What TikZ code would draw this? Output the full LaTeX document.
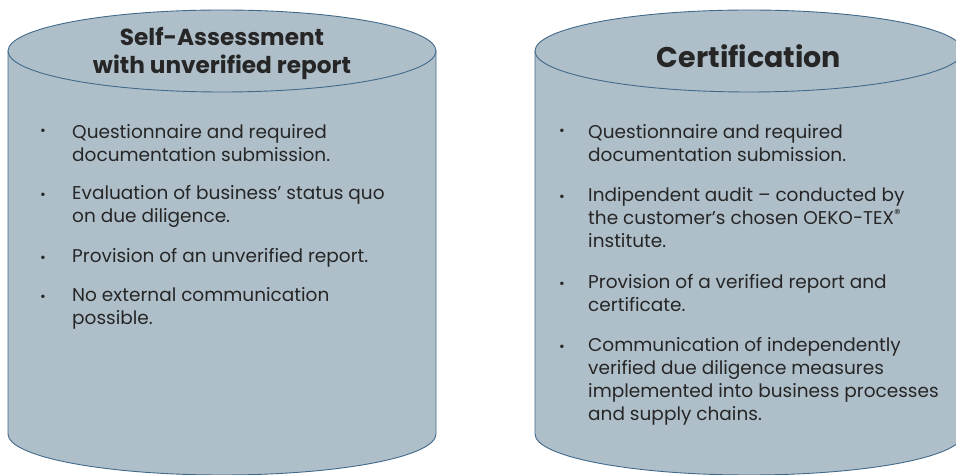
\documentclass[tikz,border=0pt]{standalone}
\usepackage{fontspec}
\setmainfont{Poppins}
\usetikzlibrary{positioning}
\definecolor{tankfill}{HTML}{AFBFCA}
\definecolor{tankline}{HTML}{41698A}
\definecolor{inktext}{HTML}{262626}
\tikzset{
  tank/.style={fill=tankfill, draw=tankline, line width=0.9pt},
  head/.style={font=\fontsize{23.2}{28}\selectfont\bfseries, text=inktext, align=center, inner sep=0pt},
  item/.style={font=\fontsize{18.5}{23}\selectfont, text=inktext, align=left, anchor=base west, inner sep=0pt},
  dot/.style={font=\fontsize{14}{23}\selectfont, text=inktext, anchor=base, inner sep=0pt}
}
\begin{document}
\begin{tikzpicture}[x=1pt,y=1pt]
	\useasboundingbox (0,0) rectangle (956,474);
	\clip (0,0) rectangle (956,474);
	% self-assessment tank
	\draw[tank] (8,423) -- (8,40) arc[start angle=180,end angle=360,x radius=214,y radius=41] -- (436,423);
	\draw[tank] (222,423) ellipse [x radius=214,y radius=41];
	% certification tank
	\draw[tank] (535,423) -- (535,40) arc[start angle=180,end angle=360,x radius=214,y radius=41] -- (963,423);
	\draw[tank] (749,423) ellipse [x radius=214,y radius=41];
	% titles
	\node[head] (satitle) at (222,421) {Self-Assessment\\with unverified report};
	\node[head, font=\fontsize{28.5}{34}\selectfont\bfseries] (cetitle) at (749,418) {Certification};
	% left list (anchored at last line)
	\node[item] (sa1) at (72,312) {Questionnaire and required\\documentation submission.};
	\node[item] (sa2) at (72,251) {Evaluation of business’ status quo\\on due diligence.};
	\node[item] (sa3) at (72,211) {Provision of an unverified report.};
	\node[item] (sa4) at (72,149) {No external communication\\possible.};
	\foreach \n/\y in {a/338,b/274,c/211,d/172}
		\node[dot] (sadot\n) at (43,\y) {•};
	% right list
	\node[item] (ce1) at (588,312) {Questionnaire and required\\documentation submission.};
	\node[item] (ce2) at (588,226) {Indipendent audit – conducted by\\the customer’s chosen OEKO-TEX\textsuperscript{®}\\institute.};
	\node[item] (ce3) at (588,162) {Provision of a verified report and\\certificate.};
	\node[item] (ce4) at (588,53) {Communication of independently\\verified due diligence measures\\implemented into business processes\\and supply chains.};
	\foreach \n/\y in {a/338,b/272,c/185,d/122}
		\node[dot] (cedot\n) at (562,\y) {•};
\end{tikzpicture}
\end{document}
